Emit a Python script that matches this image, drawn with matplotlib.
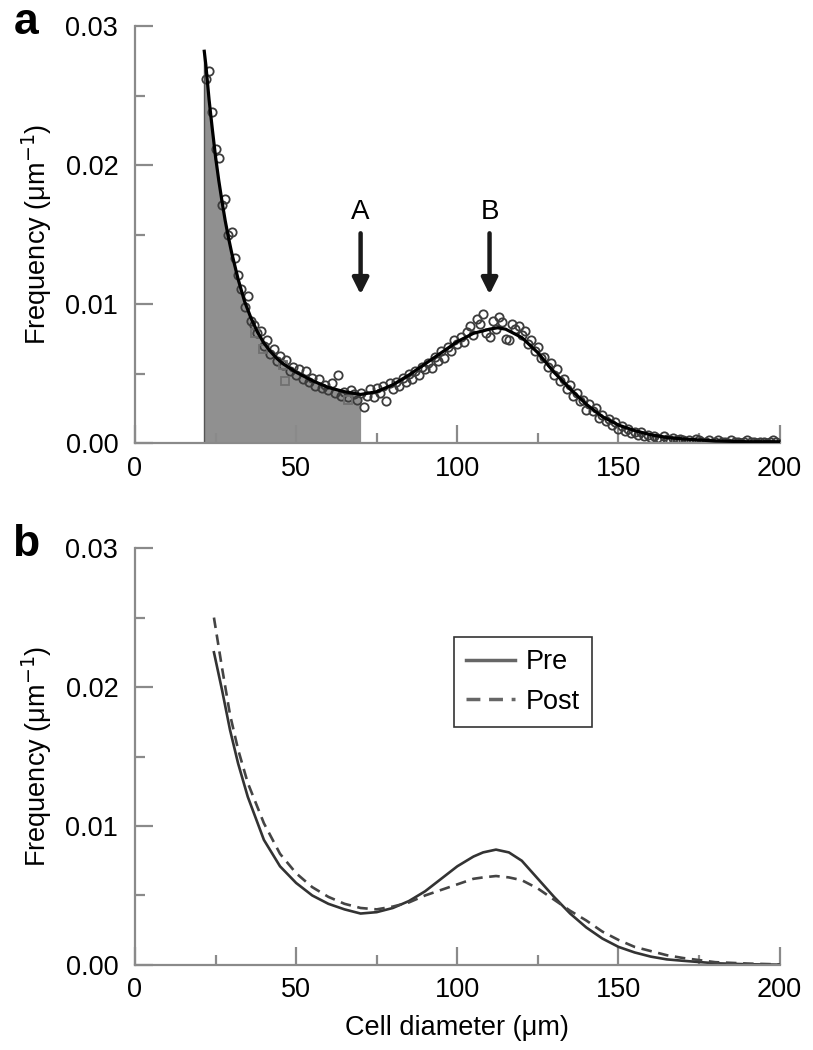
import numpy as np
import matplotlib
matplotlib.use("Agg")
import matplotlib.pyplot as plt
from matplotlib.ticker import MultipleLocator

plt.rcParams['font.family'] = ['Liberation Sans', 'DejaVu Sans']

# panel a: measured points (1 um bins from 22 to 199)
pts_x = np.arange(22, 200)
pts_y = [0.0262, 0.0268, 0.0238, 0.0212, 0.0205, 0.0171, 0.0176, 0.0150, 0.0152, 0.0133,
         0.0121, 0.0111, 0.0098, 0.0106, 0.0088, 0.0085, 0.0079, 0.0081, 0.0070, 0.0074,
         0.0064, 0.0068, 0.0059, 0.0063, 0.0056, 0.0060, 0.0052, 0.0055, 0.0049, 0.0053,
         0.0046, 0.0052, 0.0044, 0.0047, 0.0041, 0.0046, 0.0040, 0.0042, 0.0038, 0.0043,
         0.0036, 0.0049, 0.0034, 0.0037, 0.0033, 0.0038, 0.0035, 0.0031, 0.0036, 0.0026,
         0.0034, 0.0039, 0.0033, 0.0040, 0.0036, 0.0041, 0.0030, 0.0043, 0.0039, 0.0044,
         0.0041, 0.0047, 0.0044, 0.0050, 0.0046, 0.0052, 0.0049, 0.0055, 0.0053, 0.0058,
         0.0054, 0.0062, 0.0059, 0.0066, 0.0061, 0.0069, 0.0066, 0.0074, 0.0071, 0.0076,
         0.0073, 0.0080, 0.0084, 0.0078, 0.0089, 0.0086, 0.0093, 0.0079, 0.0076, 0.0088,
         0.0082, 0.0091, 0.0087, 0.0075, 0.0074, 0.0086, 0.0082, 0.0084, 0.0078, 0.0081,
         0.0071, 0.0074, 0.0066, 0.0069, 0.0061, 0.0062, 0.0055, 0.0058, 0.0049, 0.0053,
         0.0045, 0.0046, 0.0039, 0.0042, 0.0034, 0.0036, 0.0030, 0.0031, 0.0024, 0.0028,
         0.0023, 0.0025, 0.0018, 0.0020, 0.0016, 0.0017, 0.0013, 0.0015, 0.0010, 0.0012,
         0.0009, 0.0010, 0.0007, 0.0008, 0.0006, 0.0008, 0.0005, 0.0006, 0.0004, 0.0005,
         0.0004, 0.0003, 0.0005, 0.0003, 0.0002, 0.0004, 0.0002, 0.0003, 0.0002, 0.0001,
         0.0002, 0.0001, 0.0003, 0.0002, 0.0001, 0.0001, 0.0002, 0.0000, 0.0001, 0.0002,
         0.0001, 0.0001, 0.0000, 0.0002, 0.0001, 0.0001, 0.0000, 0.0001, 0.0002, 0.0001,
         0.0001, 0.0000, 0.0001, 0.0001, 0.0000, 0.0001, 0.0002, 0.0001]
sq_x = [37.2, 39.8, 46.0, 46.5, 66.0]
sq_y = [0.0079, 0.0068, 0.0056, 0.0045, 0.0031]

# panel a: fitted curve
fit_x = [21.5, 22, 23, 24, 25, 26, 27, 28, 29, 30, 32, 34, 36, 38, 40, 42, 44, 46, 48, 50,
         55, 60, 65, 70, 75, 80, 85, 90, 95, 100, 105, 110, 112.5, 115, 120, 125, 130, 135,
         140, 145, 150, 155, 160, 165, 170, 180, 190, 200]
fit_y = [0.0282, 0.0272, 0.0247, 0.0226, 0.0206, 0.0189, 0.0174, 0.0160, 0.0148, 0.0137,
         0.0118, 0.0102, 0.0090, 0.0080, 0.0072, 0.0066, 0.0061, 0.0057, 0.0054, 0.0051,
         0.0045, 0.0040, 0.0037, 0.0035, 0.0037, 0.0042, 0.0049, 0.0057, 0.0065, 0.0073,
         0.0079, 0.0082, 0.0083, 0.0082, 0.0076, 0.0065, 0.0051, 0.0039, 0.0028, 0.0019,
         0.0013, 0.0009, 0.0006, 0.0004, 0.0003, 0.00015, 0.0001, 0.0001]
shade_end = 70
arrow_x = [70, 110]
arrow_lbl = ['A', 'B']

# panel b: pre / post model curves
b_x = [24.5, 27, 29.5, 32, 35, 40, 45, 50, 55, 60, 65, 70, 75, 80, 85, 90, 95, 100, 105,
       108, 112, 116, 120, 125, 130, 135, 140, 145, 150, 155, 160, 165, 170, 180, 190, 200]
pre_y = [0.0225, 0.0198, 0.0169, 0.0145, 0.0121, 0.0090, 0.0071, 0.0059, 0.0050, 0.0044,
         0.0040, 0.0037, 0.0038, 0.0041, 0.0046, 0.0053, 0.0062, 0.0071, 0.0078, 0.0081,
         0.0083, 0.0081, 0.0075, 0.0062, 0.0049, 0.0037, 0.0027, 0.0019, 0.0013, 0.0009,
         0.0006, 0.0004, 0.0003, 0.00012, 0.00005, 0.00002]
post_y = [0.0250, 0.0214, 0.0180, 0.0155, 0.0131, 0.0102, 0.0080, 0.0066, 0.0056, 0.0049,
          0.0044, 0.0041, 0.0040, 0.0042, 0.0045, 0.0050, 0.0054, 0.0058, 0.0062, 0.0063,
          0.0064, 0.0063, 0.0061, 0.0055, 0.0047, 0.0039, 0.0032, 0.0024, 0.0018, 0.0013,
          0.0010, 0.0007, 0.0005, 0.0002, 0.0001, 0.00004]

xticks = [0, 50, 100, 150, 200]
yticks = [0.00, 0.01, 0.02, 0.03]
ylab = 'Frequency (μm$^{-1}$)'
axcol = '#8a8a8a'
fs = 19.5


def style(ax):
    ax.set_xlim(0, 200)
    ax.set_ylim(0, 0.03)
    ax.spines['top'].set_visible(False)
    ax.spines['right'].set_visible(False)
    for s in ['left', 'bottom']:
        ax.spines[s].set_color(axcol)
        ax.spines[s].set_linewidth(1.6)
    ax.set_xticks(xticks)
    ax.set_yticks(yticks)
    ax.set_yticklabels(['%.2f' % v for v in yticks])
    ax.xaxis.set_minor_locator(MultipleLocator(25))
    ax.yaxis.set_minor_locator(MultipleLocator(0.005))
    ax.tick_params(which='major', direction='in', length=13, width=1.6, color=axcol,
                   labelsize=fs, pad=9)
    ax.tick_params(which='minor', direction='in', length=7, width=1.6, color=axcol)
    ax.tick_params(axis='y', which='major', pad=12)
    ax.set_ylabel(ylab, fontsize=fs, labelpad=8)


fig = plt.figure(figsize=(8.13, 10.5), dpi=100)
ax1 = fig.add_axes([0.166, 0.578, 0.793, 0.397])
ax2 = fig.add_axes([0.166, 0.081, 0.793, 0.397])

# panel a
fx = np.array(fit_x)
fy = np.array(fit_y)
m = fx <= shade_end
ax1.fill_between(fx[m], 0, fy[m], color='#909090', lw=0, zorder=1)
ax1.plot([fit_x[0], fit_x[0]], [0, fit_y[0]], color='#555555', lw=1, zorder=1)
ax1.plot(pts_x, pts_y, 'o', ms=6, mfc='none', mec='#3c3c3c', mew=1.3, zorder=2)
ax1.plot(sq_x, sq_y, 's', ms=5.5, mfc='none', mec='#707070', mew=1.3, zorder=2)
ax1.plot(fit_x, fit_y, color='black', lw=2.3, zorder=3)
for xa, lb in zip(arrow_x, arrow_lbl):
    ax1.annotate('', xy=(xa, 0.0107), xytext=(xa, 0.0151),
                 arrowprops=dict(arrowstyle='-|>', lw=3.2, color='#1a1a1a',
                                 mutation_scale=24, shrinkA=0, shrinkB=0))
    ax1.text(xa, 0.0166, lb, fontsize=20, ha='center', va='center')
style(ax1)

# panel b
ax2.plot(b_x, pre_y, color='#333333', lw=1.9, label='Pre')
ax2.plot(b_x, post_y, color='#444444', lw=1.9, ls=(0, (4, 2.5)), label='Post')
style(ax2)
ax2.set_xlabel('Cell diameter (μm)', fontsize=fs, labelpad=8)
leg = ax2.legend(loc='upper left', bbox_to_anchor=(0.495, 0.787), borderaxespad=0,
                 fontsize=fs, fancybox=False, handlelength=1.8, handletextpad=0.4,
                 borderpad=0.45, labelspacing=0.5)
leg.get_frame().set_edgecolor('black')
leg.get_frame().set_linewidth(1.2)
for h in leg.get_lines():
    h.set_color('#666666')
    h.set_linewidth(2.5)

fig.text(0.032, 0.979, 'a', fontsize=32, fontweight='bold', ha='center', va='center')
fig.text(0.032, 0.481, 'b', fontsize=32, fontweight='bold', ha='center', va='center')

fig.savefig('out.png', dpi=100)
